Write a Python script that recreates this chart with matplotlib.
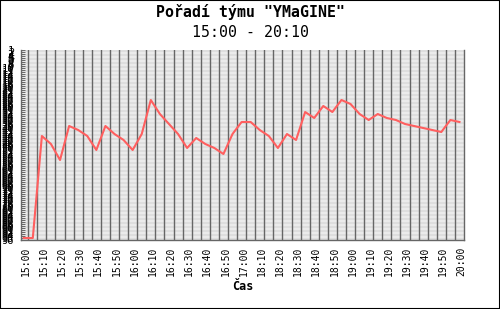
import matplotlib
matplotlib.use("Agg")
import matplotlib.pyplot as plt
import matplotlib.transforms as mtransforms
from matplotlib.patches import Rectangle

# time slots (17:05 - 18:00 missing in the source data)
times = ["15:00", "15:05", "15:10", "15:15", "15:20", "15:25", "15:30", "15:35",
         "15:40", "15:45", "15:50", "15:55", "16:00", "16:05", "16:10", "16:15",
         "16:20", "16:25", "16:30", "16:35", "16:40", "16:45", "16:50", "16:55",
         "17:00", "18:05", "18:10", "18:15", "18:20", "18:25", "18:30", "18:35",
         "18:40", "18:45", "18:50", "18:55", "19:00", "19:05", "19:10", "19:15",
         "19:20", "19:25", "19:30", "19:35", "19:40", "19:45", "19:50", "19:55",
         "20:00"]
# team rank at each slot
ranks = [95, 95, 44, 48, 56, 39, 41, 44, 51, 39,
         43, 46, 51, 43, 26, 33, 38, 43, 50, 45,
         48, 50, 53, 43, 37, 37, 41, 44, 50, 43,
         46, 32, 35, 29, 32, 26, 28, 33, 36, 33,
         35, 36, 38, 39, 40, 41, 42, 36, 37]
rank_min, rank_max = 1, 96

mono = "DejaVu Sans Mono"
fig = plt.figure(figsize=(5, 3.09), dpi=100)
ax = fig.add_axes([0.042, 0.2233, 0.886, 0.6149])

x = list(range(len(times)))
ax.set_xlim(-0.3, len(times) - 0.5)
ax.set_ylim(rank_max, rank_min)

# striped background, one band per rank
for r in range(rank_min, rank_max):
    ax.axhspan(r, r + 1, color="#dedede" if r % 2 else "#ebebeb", lw=0, zorder=0)
for k in range(len(times) - 1):
    ax.axvline(k + 0.5, color="#666666", lw=1.0, zorder=1)

ax.plot(x, ranks, color="#ff5f5f", lw=1.5, zorder=3)

# x labels every second slot
xt = list(range(0, 25, 2)) + list(range(26, len(times), 2))
ax.set_xticks(xt)
ax.set_xticklabels([times[i] for i in xt], rotation=90, fontsize=7, family=mono)
ax.tick_params(axis="x", length=0, pad=4.5)
off = mtransforms.ScaledTranslation(2 / 100, 0, fig.dpi_scale_trans)
for lab in ax.get_xticklabels():
    lab.set_transform(lab.get_transform() + off)

ax.set_yticks(range(rank_min, rank_max + 1))
ax.set_yticklabels([str(r) for r in range(rank_min, rank_max + 1)], fontsize=7.5, family=mono)
ax.tick_params(axis="y", direction="in", length=3, width=0.7, color="#666666", pad=5)

for s in ["left", "bottom", "right"]:
    ax.spines[s].set_color("#666666")
    ax.spines[s].set_linewidth(1.0)
ax.spines["top"].set_visible(False)

fig.text(0.5, 0.944, 'Pořadí týmu "YMaGINE"', ha="center", va="baseline",
         fontsize=10.7, fontweight="bold", family=mono)
fig.text(0.5, 0.880, "15:00 - 20:10", ha="center", va="baseline", fontsize=10.7, family=mono)
fig.text(0.485, 0.0615, "Čas", ha="center", va="baseline", fontsize=8.5,
         fontweight="bold", family=mono)

fig.patches.append(Rectangle((0, 0), 1, 1, transform=fig.transFigure, fill=False,
                             edgecolor="black", lw=1.5))

fig.savefig("out.png", dpi=100)
